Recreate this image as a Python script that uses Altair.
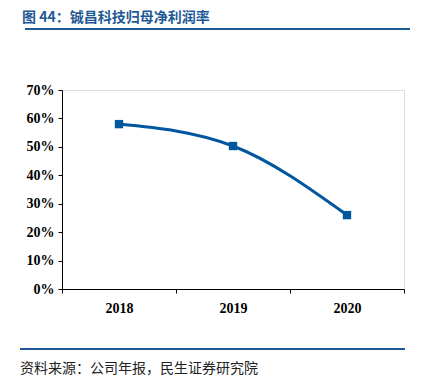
import altair as alt
import pandas as pd

years = ["2018", "2019", "2020"]
margins = [0.58, 0.503, 0.26]
title_text = "图  44：铖昌科技归母净利润率"
source_text = "资料来源：公司年报，民生证券研究院"

df = pd.DataFrame({"year": years, "margin": margins})
BLUE = "#00569f"
W, H = 342, 199

x_enc = alt.X("year:N", sort=years,
              scale=alt.Scale(type="band", paddingInner=0, paddingOuter=0),
              axis=alt.Axis(title=None, labelAngle=0, tickBand="extent",
                            labelFont="Liberation Serif", labelFontWeight="bold",
                            labelFontSize=14, labelColor="black", labelPadding=8,
                            domainColor="black", tickColor="black", tickSize=4,
                            grid=False))
y_enc = alt.Y("margin:Q",
              scale=alt.Scale(domain=[0, 0.7], nice=False),
              axis=alt.Axis(title=None, format=".0%", values=[0, .1, .2, .3, .4, .5, .6, .7],
                            labelFont="Liberation Serif", labelFontWeight="bold",
                            labelFontSize=14, labelColor="black", labelPadding=4,
                            domainColor="black", tickColor="black", tickSize=4,
                            grid=False))

base = alt.Chart(df)
line = base.mark_line(color=BLUE, strokeWidth=3, interpolate="monotone").encode(x=x_enc, y=y_enc)
pts = base.mark_square(color=BLUE, size=70, opacity=1).encode(x=x_enc, y=y_enc)

deco = alt.Chart(pd.DataFrame({"a": [0]}))
title = deco.mark_text(text=title_text, align="left", baseline="alphabetic",
                       font="Noto Sans CJK SC", fontSize=14, fontWeight="bold",
                       color="#1f5a96").encode(x=alt.value(22 - 62), y=alt.value(22 - 90))
rule_top = deco.mark_rule(color="#1f5a96", strokeWidth=2).encode(
    x=alt.value(25 - 62), x2=alt.value(410 - 62), y=alt.value(29 - 90))
rule_bot = deco.mark_rule(color="#1f5a96", strokeWidth=2).encode(
    x=alt.value(20 - 62), x2=alt.value(405 - 62), y=alt.value(349 - 90))
source = deco.mark_text(text=source_text, align="left", baseline="alphabetic",
                        font="Noto Sans CJK SC", fontSize=14, color="#222222").encode(
    x=alt.value(20 - 62), y=alt.value(373 - 90))

chart = alt.layer(line, pts, title, rule_top, rule_bot, source).properties(
    width=W, height=H,
    padding={"left": 62, "top": 90, "right": 17, "bottom": 88},
    autosize="none",
).configure_view(stroke=None).configure(background="white")

chart.save("out.html", embed_options={"renderer": "svg", "actions": False})
